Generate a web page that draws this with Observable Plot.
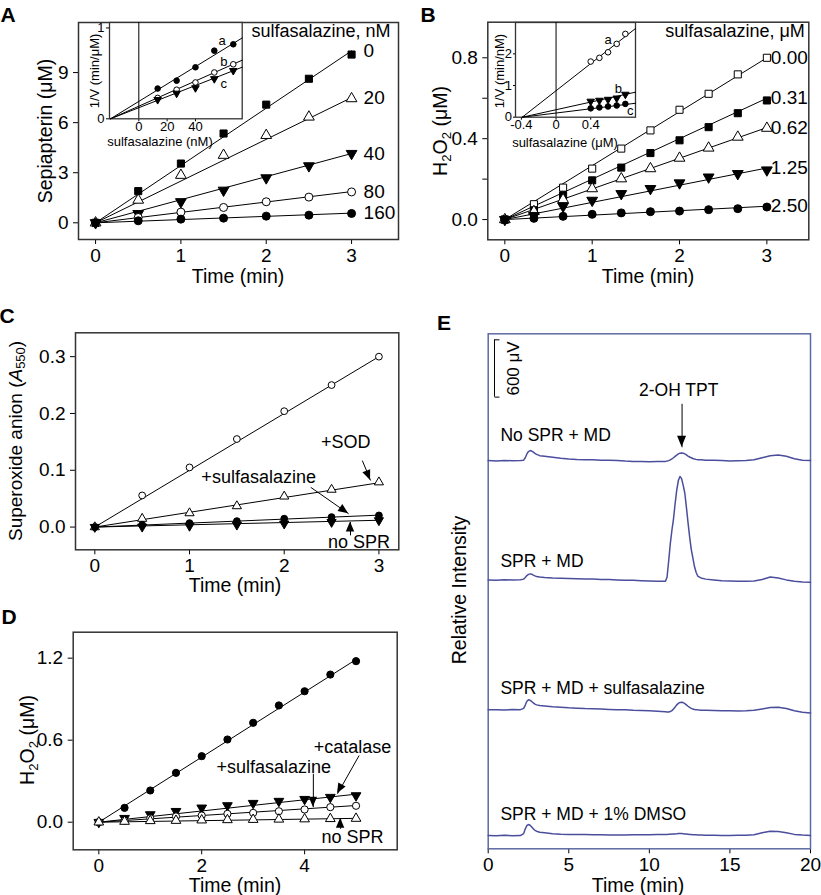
<!DOCTYPE html>
<html>
<head>
<meta charset="utf-8">
<script src="https://cdn.jsdelivr.net/npm/d3@7"></script>
<script src="https://cdn.jsdelivr.net/npm/@observablehq/plot@0.6"></script>
<style>
  body { margin: 0; background: #fff; }
  #fig { position: relative; width: 821px; height: 895px; overflow: hidden;
         font-family: "Liberation Sans", Arial, Helvetica, sans-serif; color: #000; font-weight: normal; }
  #fig sub { font-size: 0.68em; vertical-align: -0.28em; line-height: 0; }
</style>
</head>
<body>
<div id="fig"></div>
<script>
// ---------------- DATA ----------------
// Panel A: sepiapterin (µM) vs time, per sulfasalazine (nM)
const timeA = [0, 0.5, 1, 1.5, 2, 2.5, 3];
const concA = ["0", "20", "40", "80", "160"];
const sepA_0   = [0, 1.90, 3.55, 5.35, 7.08, 8.63, 10.08];
const sepA_20  = [0, 1.36, 2.85, 4.05, 5.24, 6.34, 7.44];
const sepA_40  = [0, 0.55, 1.26, 1.95, 2.69, 3.41, 4.15];
const sepA_80  = [0, 0.32, 0.64, 0.92, 1.26, 1.54, 1.85];
const sepA_160 = [0, 0.12, 0.22, 0.28, 0.40, 0.46, 0.56];
const fitEndA  = [10.3, 7.5, 4.15, 1.87, 0.58];
const titleA = "sulfasalazine, nM";
const ticksAx = [0, 1, 2, 3];
const ticksAy = [0, 3, 6, 9];

// Panel A inset (Dixon plot)
const insetAx = [13.3, 26.7, 40, 53.3, 66.7];
const insetA_a = [0.333, 0.42, 0.567, 0.75, 0.82];
const insetA_b = [0.23, 0.32, 0.40, 0.51, 0.60];
const insetA_c = [0.21, 0.28, 0.34, 0.44, 0.53];
const insetA_fitX = [-20, 73];
const insetA_fitEnd = [0.89, 0.645, 0.568];
const insetA_ticksX = [0, 20, 40];
const insetA_ticksY = [0, 1];
const insetLetters = ["a", "b", "c"];

// Panel B: H2O2 (µM) vs time, per sulfasalazine (µM)
const timeB = [0, 0.333, 0.667, 1, 1.333, 1.667, 2, 2.333, 2.667, 3];
const concB = ["0.00", "0.31", "0.62", "1.25", "2.50"];
const h2o2B_000 = [0, 0.076, 0.158, 0.252, 0.351, 0.441, 0.543, 0.622, 0.718, 0.800];
const h2o2B_031 = [0, 0.046, 0.120, 0.194, 0.257, 0.329, 0.392, 0.457, 0.526, 0.589];
const h2o2B_062 = [0, 0.040, 0.099, 0.153, 0.202, 0.252, 0.304, 0.354, 0.408, 0.452];
const h2o2B_125 = [0, 0.020, 0.066, 0.095, 0.128, 0.153, 0.181, 0.210, 0.227, 0.245];
const h2o2B_250 = [0, 0.006, 0.016, 0.026, 0.033, 0.039, 0.042, 0.049, 0.054, 0.062];
const fitEndB = [0.80, 0.60, 0.455, 0.255, 0.066];
const titleB = "sulfasalazine, μM";
const ticksBy = [0, 0.2, 0.4, 0.6, 0.8];

// Panel B inset
const insetBx = [0.4, 0.5, 0.6, 0.7, 0.8];
const insetB_a = [1.757, 1.874, 2.05, 2.315, 2.63];
const insetB_b = [0.50, 0.53, 0.56, 0.60, 0.72];
const insetB_c = [0.28, 0.31, 0.34, 0.37, 0.42];
const insetB_fitX = [-0.39, 0.917];
const insetB_fitEnd = [2.8, 0.79, 0.44];
const insetB_ticksX = [-0.4, 0, 0.4];
const insetB_ticksY = [0, 1, 2];

// Panel C: superoxide anion (A550) vs time
const timeC = [0, 0.5, 1, 1.5, 2, 2.5, 3];
const supC_control = [0, 0.0557, 0.105, 0.155, 0.204, 0.25, 0.30];
const supC_sod     = [0, 0.0148, 0.0246, 0.037, 0.054, 0.066, 0.079];
const supC_sulfa   = [0, 0.004, 0.007, 0.0105, 0.0148, 0.0176, 0.0205];
const supC_noSPR   = [0, 0.0005, 0.002, 0.004, 0.006, 0.0088, 0.0118];
const fitEndC = [0.30, 0.078, 0.021, 0.012];
const annotC = [
  {label: "+SOD", x: 2.65, y: 0.149, x1: 2.825, y1: 0.117, x2: 2.912, y2: 0.082},
  {label: "+sulfasalazine", x: 1.73, y: 0.088, x1: 2.28, y1: 0.07, x2: 2.68, y2: 0.0235},
  {label: "no SPR", x: 2.79, y: -0.026, x1: 2.70, y1: -0.0146, x2: 2.70, y2: 0.0088}
];

// Panel D: H2O2 (µM) vs time
const timeD = [0, 0.5, 1, 1.5, 2, 2.5, 3, 3.5, 4, 4.5, 5];
const h2o2D_control  = [0, 0.105, 0.232, 0.361, 0.483, 0.605, 0.727, 0.854, 0.958, 1.08, 1.178];
const h2o2D_catalase = [0, 0.029, 0.056, 0.08, 0.105, 0.122, 0.139, 0.154, 0.168, 0.183, 0.195];
const h2o2D_sulfa    = [0, 0.012, 0.029, 0.042, 0.049, 0.061, 0.068, 0.08, 0.093, 0.11, 0.12];
const h2o2D_noSPR    = [0, 0.005, 0.01, 0.012, 0.015, 0.017, 0.019, 0.021, 0.023, 0.025, 0.027];
const fitEndD = [1.19, 0.205, 0.122, 0.028];
const annotD = [
  {label: "+catalase", x: 4.93, y: 0.549, x1: 5.06, y1: 0.488, x2: 4.64, y2: 0.208},
  {label: "+sulfasalazine", x: 3.40, y: 0.402, x1: 4.17, y1: 0.354, x2: 4.17, y2: 0.11},
  {label: "no SPR", x: 4.93, y: -0.11, x1: 4.70, y1: -0.048, x2: 4.70, y2: 0.029}
];

// Panel E: HPLC traces (µV above each baseline) vs time (min)
const tE = [0, 0.5, 1, 1.5, 2, 2.2, 2.3, 2.4, 2.5, 2.6, 2.7, 2.8, 2.9, 3.0, 3.2, 3.5,
  4, 4.5, 5, 5.5, 6, 6.5, 7, 7.5, 8, 8.5, 9, 9.5, 10, 10.5,
  11, 11.1, 11.2, 11.3, 11.4, 11.5, 11.6, 11.7, 11.8, 11.9, 12.0, 12.1, 12.2, 12.3, 12.4,
  12.5, 12.6, 12.7, 12.8, 12.9, 13.0, 13.2, 13.5,
  14, 14.5, 15, 15.5, 16, 16.5, 17, 17.5, 18, 18.5, 19, 19.5, 20];
const traceNoSPR = [0, -3, 2, -2, 0, 5, 30, 70, 95, 105, 100, 88, 75, 65, 52, 45,
  35, 25, 17, 12, 10, 8, 5, 5, 0, -5, -8, -10, -12, -10,
  -8, -5, 0, 8, 18, 30, 45, 58, 70, 78, 80, 78, 70, 60, 48,
  38, 30, 22, 17, 13, 10, 8, 5,
  3, 0, -3, -2, 0, 10, 30, 50, 58, 45, 20, 5, 0];
const traceSPR = [0, -3, 2, -2, 2, 8, 25, 45, 58, 63, 60, 50, 42, 36, 30, 25,
  20, 17, 14, 12, 10, 8, 5, 3, 0, -3, -5, -8, -12, -15,
  -15, 30, 200, 380, 520, 640, 800, 940, 1040, 1083, 1060, 990, 910, 760, 600,
  450, 320, 230, 140, 80, 40, 20, 8,
  0, -8, -12, -15, -15, -12, 5, 30, 20, 0, -15, -22, -25];
const traceSulfa = [0, 2, -2, 3, 2, 15, 50, 90, 105, 100, 88, 72, 60, 52, 45, 40,
  33, 28, 22, 18, 14, 12, 8, 5, 2, 0, -5, -8, -10, -15,
  -20, -22, -22, -18, -8, 10, 30, 52, 68, 78, 80, 76, 66, 52, 38,
  25, 15, 8, 4, 2, 0, -3, -5,
  -8, -10, -10, -12, -10, -5, 10, 25, 28, 15, -10, -25, -32];
const traceDMSO = [0, -3, 2, -2, 0, 20, 70, 105, 115, 108, 90, 70, 55, 45, 35, 28,
  18, 14, 12, 10, 10, 8, 7, 5, 5, 5, 7, 8, 8, 10,
  12, 12, 13, 14, 15, 16, 17, 18, 20, 20, 20, 19, 17, 15, 13,
  11, 10, 9, 8, 7, 6, 5, 3,
  2, 0, 0, 2, 3, 8, 30, 45, 42, 30, 12, 5, 0];
const labelsE = ["No SPR + MD", "SPR + MD", "SPR + MD + sulfasalazine", "SPR + MD + 1% DMSO"];
const baselineE = [4065, 2816, 1455, 139];
const ticksEx = [0, 5, 10, 15, 20];
const scaleBarUV = 600;
const peakLabel = "2-OH TPT";
const peakTime = 12.03;

// ---------------- RENDER ----------------
const fig = document.getElementById("fig");
const FONT = '"Liberation Sans", Arial, Helvetica, sans-serif';
const sqrt3 = Math.sqrt(3);
const triangleDown = {
  draw(context, size) {
    const y = -Math.sqrt(size / (sqrt3 * 3));
    context.moveTo(0, -y * 2);
    context.lineTo(-sqrt3 * y, y);
    context.lineTo(sqrt3 * y, y);
    context.closePath();
  }
};
const plain = d => String(d);

function place(svg, left, top) {
  svg.style.position = "absolute";
  svg.style.left = left + "px";
  svg.style.top = top + "px";
  svg.style.background = "transparent";
  svg.style.overflow = "visible";
  svg.style.maxWidth = "none";
  fig.appendChild(svg);
  return svg;
}
function txt(html, cx, cy, size, rot = 0, extra = "") {
  const d = document.createElement("div");
  d.innerHTML = html;
  d.style.cssText = `position:absolute;left:${cx}px;top:${cy}px;transform:translate(-50%,-50%) rotate(${rot}deg);` +
    `font-size:${size}px;line-height:1;white-space:nowrap;font-weight:normal;${extra}`;
  fig.appendChild(d);
}
function pts(xs, ys) { return xs.map((x, i) => ({x, y: ys[i]})); }
function dots(xs, ys, symbol, filled, r) {
  return Plot.dot(pts(xs, ys), {x: "x", y: "y", symbol, r, fill: filled ? "black" : "white", stroke: "black", strokeWidth: 1});
}
function fit(x0, y0, x1, y1, w = 1) {
  return Plot.line([{x: x0, y: y0}, {x: x1, y: y1}], {x: "x", y: "y", stroke: "black", strokeWidth: w});
}
function heads(svg, arrows, len = 10, half = 4.2) {
  const sx = svg.scale("x"), sy = svg.scale("y");
  const g = d3.select(svg).append("g");
  for (const a of arrows) {
    const x1 = sx.apply(a.x1), y1 = sy.apply(a.y1), x2 = sx.apply(a.x2), y2 = sy.apply(a.y2);
    const ang = Math.atan2(y2 - y1, x2 - x1);
    const bx = x2 - len * Math.cos(ang), by = y2 - len * Math.sin(ang);
    const px = -Math.sin(ang) * half, py = Math.cos(ang) * half;
    g.append("polygon").attr("points", `${x2},${y2} ${bx + px},${by + py} ${bx - px},${by - py}`).attr("fill", "black");
  }
}
const mainStyle = {fontFamily: FONT, fontSize: "19px", background: "transparent", overflow: "visible"};
const insetStyle = {fontFamily: FONT, fontSize: "13px", background: "transparent", overflow: "visible"};
const FRAME = {stroke: "#333", strokeWidth: 1.5};
const XPAD = 4;

// ---- Panel A ----
const seriesA = [
  {v: sepA_0, sym: "square", f: true},
  {v: sepA_20, sym: "triangle", f: false},
  {v: sepA_40, sym: triangleDown, f: true},
  {v: sepA_80, sym: "circle", f: false},
  {v: sepA_160, sym: "circle", f: true}
];
const tEndA = timeA[timeA.length - 1];
place(Plot.plot({
  width: 410, height: 300, marginLeft: 78, marginRight: 12, marginTop: 22, marginBottom: 61,
  style: mainStyle,
  x: {domain: [-0.2, 3.55], ticks: ticksAx, tickFormat: plain, tickSize: 5, tickPadding: XPAD, label: null},
  y: {domain: [-1, 12], ticks: ticksAy, tickFormat: plain, tickSize: 5, tickPadding: 5, label: null},
  marks: [
    Plot.frame(FRAME),
    ...seriesA.map((s, i) => fit(0, 0, tEndA, fitEndA[i])),
    ...seriesA.map(s => dots(timeA, s.v, s.sym, s.f, 4)),
    Plot.text(concA.map((c, i) => ({c, y: fitEndA[i]})), {x: tEndA, y: "y", text: "c", dx: 12, textAnchor: "start", fontSize: 19}),
    Plot.text([titleA], {frameAnchor: "top-right", dx: -8, dy: 2, textAnchor: "end", lineAnchor: "top", fontSize: 18})
  ]
}), 0, 0);

// ---- Panel A inset ----
const insetAseries = [
  {v: insetA_a, sym: "circle", f: true},
  {v: insetA_b, sym: "circle", f: false},
  {v: insetA_c, sym: triangleDown, f: true}
];
place(Plot.plot({
  width: 190, height: 150, marginLeft: 49, marginRight: 8.3, marginTop: 22, marginBottom: 31.7,
  style: insetStyle,
  x: {domain: [-20.7, 73], ticks: insetA_ticksX, tickFormat: plain, tickSize: 3, tickPadding: 0, label: null},
  y: {domain: [0, 1.06], ticks: insetA_ticksY, tickFormat: plain, tickSize: 3, tickPadding: 2, label: null},
  marks: [
    Plot.frame({fill: "white", stroke: "#333", strokeWidth: 1.3}),
    Plot.ruleX([0], {stroke: "black", strokeWidth: 1}),
    ...insetAseries.map((s, i) => fit(insetA_fitX[0], 0, insetA_fitX[1], insetA_fitEnd[i])),
    ...insetAseries.map(s => dots(insetAx, s.v, s.sym, s.f, 2.8)),
    Plot.text(insetLetters.map((l, i) => ({l, x: [58.8, 60, 60][i], y: [0.86, 0.63, 0.38][i]})),
      {x: "x", y: "y", text: "l", fontSize: 13})
  ]
}), 60, 0);

// ---- Panel B ----
const seriesB = [
  {v: h2o2B_000, sym: "square", f: false},
  {v: h2o2B_031, sym: "square", f: true},
  {v: h2o2B_062, sym: "triangle", f: false},
  {v: h2o2B_125, sym: triangleDown, f: true},
  {v: h2o2B_250, sym: "circle", f: true}
];
const tEndB = timeB[timeB.length - 1];
place(Plot.plot({
  width: 411, height: 300, marginLeft: 77.3, marginRight: 12.7, marginTop: 21.7, marginBottom: 60.7,
  style: mainStyle,
  x: {domain: [-0.195, 3.48], ticks: ticksAx, tickFormat: plain, tickSize: 5, tickPadding: XPAD, label: null},
  y: {domain: [-0.1, 0.976], ticks: ticksBy, tickSize: 5, tickPadding: 5, label: null,
      tickFormat: d => (Math.round(d * 10) % 4 === 0 ? d.toFixed(1) : "")},
  marks: [
    Plot.frame(FRAME),
    ...seriesB.map((s, i) => fit(0, 0, tEndB, fitEndB[i])),
    ...seriesB.map(s => dots(timeB, s.v, s.sym, s.f, 4)),
    Plot.text(concB.map((c, i) => ({c, y: fitEndB[i]})), {x: tEndB, y: "y", text: "c", dx: 4, textAnchor: "start", fontSize: 19}),
    Plot.text([titleB], {frameAnchor: "top-right", dx: -4, dy: 2, textAnchor: "end", lineAnchor: "top", fontSize: 18})
  ]
}), 410, 0);

// ---- Panel B inset ----
const insetBseries = [
  {v: insetB_a, sym: "circle", f: false},
  {v: insetB_b, sym: triangleDown, f: true},
  {v: insetB_c, sym: "circle", f: true}
];
place(Plot.plot({
  width: 200, height: 150, marginLeft: 45, marginRight: 35, marginTop: 22, marginBottom: 33.3,
  style: insetStyle,
  x: {domain: [-0.468, 0.917], ticks: insetB_ticksX, tickSize: 3, tickPadding: 0, label: null,
      tickFormat: d => (d === 0 ? "0" : d.toFixed(1))},
  y: {domain: [0, 2.99], ticks: insetB_ticksY, tickFormat: plain, tickSize: 2, tickPadding: 1.5, label: null},
  marks: [
    Plot.frame({fill: "white", stroke: "#333", strokeWidth: 1.3}),
    Plot.ruleX([0], {stroke: "black", strokeWidth: 1}),
    ...insetBseries.map((s, i) => fit(insetB_fitX[0], 0, insetB_fitX[1], insetB_fitEnd[i])),
    ...insetBseries.map(s => dots(insetBx, s.v, s.sym, s.f, 2.8)),
    Plot.text(insetLetters.map((l, i) => ({l, x: [0.6, 0.72, 0.855][i], y: [2.44, 0.9, 0.2][i]})),
      {x: "x", y: "y", text: "l", fontSize: 13})
  ]
}), 470, 0);

// ---- Panel C ----
const seriesC = [
  {v: supC_control, sym: "circle", f: false},
  {v: supC_sod, sym: "triangle", f: false},
  {v: supC_sulfa, sym: "circle", f: true},
  {v: supC_noSPR, sym: triangleDown, f: true}
];
const tEndC = timeC[timeC.length - 1];
const svgC = place(Plot.plot({
  width: 410, height: 300, marginLeft: 75, marginRight: 11.7, marginTop: 32.3, marginBottom: 50.7,
  style: mainStyle,
  x: {domain: [-0.204, 3.21], ticks: ticksAx, tickFormat: plain, tickSize: 5, tickPadding: XPAD, label: null},
  y: {domain: [-0.04, 0.342], ticks: [0, 0.1, 0.2, 0.3], tickFormat: ".1f", tickSize: 5, tickPadding: 5, label: null},
  marks: [
    Plot.frame(FRAME),
    ...seriesC.map((s, i) => fit(0, 0, tEndC, fitEndC[i])),
    ...seriesC.map(s => dots(timeC, s.v, s.sym, s.f, 3.4)),
    Plot.link(annotC, {x1: "x1", y1: "y1", x2: "x2", y2: "y2", stroke: "black", strokeWidth: 1}),
    Plot.text(annotC, {x: "x", y: "y", text: "label", fontSize: 18})
  ]
}), 0, 300);
heads(svgC, annotC);

// ---- Panel D ----
const seriesD = [
  {v: h2o2D_control, sym: "circle", f: true},
  {v: h2o2D_catalase, sym: triangleDown, f: true},
  {v: h2o2D_sulfa, sym: "circle", f: false},
  {v: h2o2D_noSPR, sym: "triangle", f: false}
];
const tEndD = timeD[timeD.length - 1];
const svgD = place(Plot.plot({
  width: 410, height: 295, marginLeft: 72.7, marginRight: 13.3, marginTop: 31.7, marginBottom: 45.7,
  style: mainStyle,
  x: {domain: [-0.498, 5.8], ticks: [0, 2, 4], tickFormat: plain, tickSize: 5, tickPadding: XPAD, label: null},
  y: {domain: [-0.202, 1.39], ticks: [0, 0.6, 1.2], tickFormat: ".1f", tickSize: 5, tickPadding: 5, label: null},
  marks: [
    Plot.frame(FRAME),
    ...seriesD.map((s, i) => fit(0, 0, tEndD, fitEndD[i])),
    ...seriesD.map(s => dots(timeD, s.v, s.sym, s.f, 3.6)),
    Plot.link(annotD, {x1: "x1", y1: "y1", x2: "x2", y2: "y2", stroke: "black", strokeWidth: 1}),
    Plot.text(annotD, {x: "x", y: "y", text: "label", fontSize: 18})
  ]
}), 0, 600);
heads(svgD, annotD);

// ---- Panel E ----
const TRACE = "#4a4e9c";
const tracesE = [traceNoSPR, traceSPR, traceSulfa, traceDMSO];
const labelLift = [25, 18, 21, 21];
const barLow = 4730;
const arrowE = [{x1: peakTime, y1: 4660, x2: peakTime, y2: 4205}];
const svgE = place(Plot.plot({
  width: 411, height: 595, marginLeft: 77.7, marginRight: 11, marginTop: 33.3, marginBottom: 46.7,
  style: mainStyle,
  x: {domain: [0, 20], ticks: ticksEx, tickFormat: plain, tickSize: 5, tickPadding: XPAD, label: null},
  y: {domain: [0, 5393], axis: null},
  marks: [
    Plot.frame({stroke: "#5d6aa3", strokeWidth: 1.5}),
    ...tracesE.map((vals, i) => Plot.line(tE.map((t, j) => ({t, v: vals[j] + baselineE[i]})),
      {x: "t", y: "v", stroke: TRACE, strokeWidth: 1.5})),
    ...labelsE.map((l, i) => Plot.text([l], {x: 0.76, y: baselineE[i], dy: -labelLift[i], textAnchor: "start", fontSize: 17.5})),
    Plot.ruleX([0.39], {y1: barLow, y2: barLow + scaleBarUV, stroke: "black", strokeWidth: 1}),
    Plot.link([barLow, barLow + scaleBarUV], {x1: 0.39, x2: 0.7, y1: d => d, y2: d => d, stroke: "black", strokeWidth: 1}),
    Plot.text([scaleBarUV + " μV"], {x: 1.55, y: barLow + scaleBarUV / 2, rotate: -90, fontSize: 17}),
    Plot.text([peakLabel], {x: 11.82, y: 4800, fontSize: 17.5}),
    Plot.link(arrowE, {x1: "x1", y1: "y1", x2: "x2", y2: "y2", stroke: "black", strokeWidth: 1})
  ]
}), 410, 300);
heads(svgE, arrowE, 11, 4.5);

// ---- Axis titles and panel letters ----
const T = 19.5;
txt("Sepiapterin (μM)", 46, 131, T, -90);
txt("Time (min)", 238, 277, T);
txt("H<sub>2</sub>O<sub>2</sub> (μM)", 441, 131, T, -90);
txt("Time (min)", 648, 277, T);
txt("1/V (min/μM)", 94, 71, 13, -90);
txt("sulfasalazine (nM)", 160, 141, 13);
txt("1/V (min/nM)", 499, 71, 13, -90);
txt("sulfasalazine (μM)", 565, 141.5, 13);
txt("Superoxide anion (<i>A</i><sub>550</sub>)", 15, 441, 19, -90);
txt("Time (min)", 235, 586, T);
txt("H<sub>2</sub>O<sub>2</sub> (μM)", 28, 740, T, -90);
txt("Time (min)", 235, 885.5, T);
txt("Relative Intensity", 460, 590, T, -90);
txt("Time (min)", 638, 886, T);
const letterStyle = "font-weight:bold;";
txt("A", 8, 14, 21, 0, letterStyle);
txt("B", 428, 14, 21, 0, letterStyle);
txt("C", 7, 315, 21, 0, letterStyle);
txt("D", 9, 616, 21, 0, letterStyle);
txt("E", 444, 322, 21, 0, letterStyle);
</script>
</body>
</html>
